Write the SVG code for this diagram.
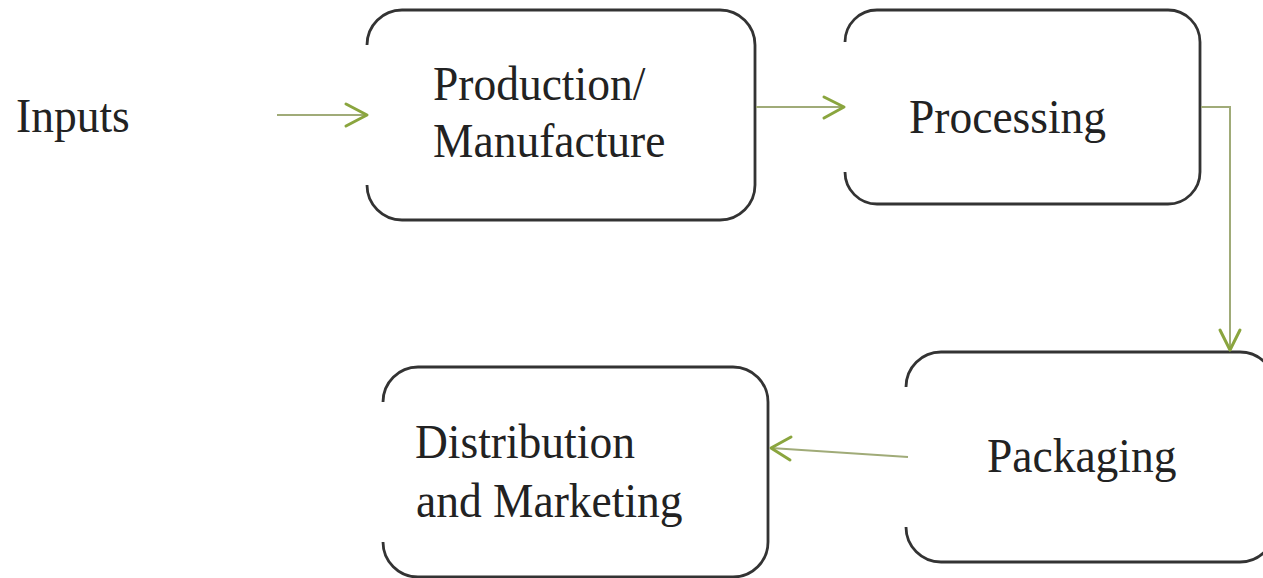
<svg xmlns="http://www.w3.org/2000/svg" width="1263" height="578" viewBox="0 0 1263 578">
<defs>
<style>
.box{fill:none;stroke:#333;stroke-width:2.8}
.lbl{font-family:"Liberation Serif","Times New Roman",serif;font-size:45.5px;fill:#222}
.conn{fill:none;stroke:#a0ab78;stroke-width:2}
.head{fill:none;stroke:#8aa53e;stroke-width:3;stroke-linecap:round;stroke-linejoin:round}
</style>
</defs>
<rect width="1263" height="578" fill="#fff"/>
<g id="inputs">
<text class="lbl" transform="translate(16,132) scale(1,1.08)">Inputs</text>
</g>
<g id="production">
<path class="box" d="M367,45 A35,35 0 0 1 402,10 H720 A35,35 0 0 1 755,45 V185 A35,35 0 0 1 720,220 H402 A35,35 0 0 1 367,185"/>
<text class="lbl" transform="translate(433,100) scale(1,1.08)">Production/</text>
<text class="lbl" transform="translate(433,157) scale(1,1.08)">Manufacture</text>
</g>
<g id="processing">
<path class="box" d="M845,42 A32,32 0 0 1 877,10 H1168 A32,32 0 0 1 1200,42 V172 A32,32 0 0 1 1168,204 H877 A32,32 0 0 1 845,172"/>
<text class="lbl" transform="translate(909,133) scale(1,1.08)">Processing</text>
</g>
<g id="packaging">
<path class="box" d="M906,387 A35,35 0 0 1 941,352 H1240 A35,35 0 0 1 1275,387 V527 A35,35 0 0 1 1240,562 H941 A35,35 0 0 1 906,527"/>
<text class="lbl" transform="translate(987,472) scale(1,1.08)">Packaging</text>
</g>
<g id="distribution">
<path class="box" d="M383,402 A35,35 0 0 1 418,367 H733 A35,35 0 0 1 768,402 V542 A35,35 0 0 1 733,577 H418 A35,35 0 0 1 383,542"/>
<text class="lbl" transform="translate(415,458) scale(1,1.08)">Distribution</text>
<text class="lbl" transform="translate(416,517) scale(1,1.08)">and Marketing</text>
</g>
<g id="connectors">
<path class="conn" d="M277,115 H367"/>
<path class="head" d="M346,104 L367,115 L346,126"/>
<path class="conn" d="M756,107 H844"/>
<path class="head" d="M824,97 L844,107 L824,118"/>
<path class="conn" d="M1201,107 H1230 V350"/>
<path class="head" d="M1220,330 L1230,350 L1240,330"/>
<path class="conn" d="M908,457 L771,448"/>
<path class="head" d="M791,437 L771,448 L790,460"/>
</g>
</svg>
